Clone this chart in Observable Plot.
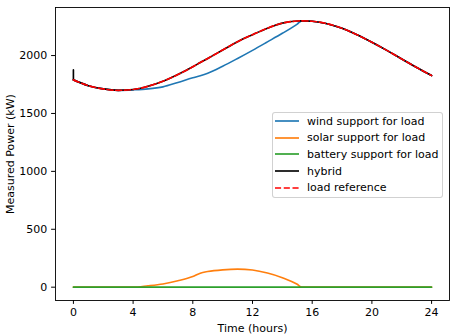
<!DOCTYPE html>
<html>
<head>
<meta charset="utf-8">
<script src="https://cdn.jsdelivr.net/npm/d3@7"></script>
<script src="https://cdn.jsdelivr.net/npm/@observablehq/plot@0.6"></script>
<style>
  html, body { margin: 0; padding: 0; background: #fff; }
  #wrap { position: relative; width: 460px; height: 336px; font-family: "DejaVu Sans", sans-serif; }
  #legend {
    position: absolute; left: 272px; top: 112px; width: 171px; height: 86px;
    border: 1px solid rgba(204,204,204,0.9); border-radius: 3px; background: rgba(255,255,255,0.8);
    box-sizing: border-box; font-size: 11px; color: #000;
  }
  .row { position: absolute; left: 0; height: 17px; display: flex; align-items: center; }
  .row svg { margin-left: 2px; }
  .row span { margin-left: 8px; white-space: nowrap; }
</style>
</head>
<body>
<div id="wrap"><div id="legend"></div></div>
<script>
// Time axis (hours)
const hours = [0,1,2,3,4,5,6,7,8,8.5,9,10,11,12,13,14,15,15.3,16,17,18,19,20,21,22,23,24];
// Load reference (kW)
const loadRef = [1790,1740,1712,1700,1707,1735,1778,1836,1903,1940,1975,2048,2120,2180,2236,2280,2298,2300,2296,2275,2235,2180,2115,2045,1970,1897,1827];
// Wind support for load (kW)
const windSupport = [1790,1740,1712,1700,1704,1712,1730,1768,1808,1826,1848,1908,1975,2045,2118,2192,2272,2300,2296,2275,2235,2180,2115,2045,1970,1897,1827];
// Solar support for load (kW)
const solarSupport = [0,0,0,0,0,12,28,55,92,121,135,150,156,148,122,82,25,0,0,0,0,0,0,0,0,0,0];
// Battery support for load (kW)
const batterySupport = [0,0,0,0,0,0,0,0,0,0,0,0,0,0,0,0,0,0,0,0,0,0,0,0,0,0,0];
// Hybrid (kW): starts with a spike at t=0, then follows the load
const hybridHours = [0,0,1,2,3,4,5,6,7,8,8.5,9,10,11,12,13,14,15,15.3,16,17,18,19,20,21,22,23,24];
const hybridValues = [1876,1790,1740,1712,1700,1707,1735,1778,1836,1903,1940,1975,2048,2120,2180,2236,2280,2298,2300,2296,2275,2235,2180,2115,2045,1970,1897,1827];

const xTicks = [0,4,8,12,16,20,24];
const yTicks = [0,500,1000,1500,2000];

const series = [
  {name: "wind support for load", color: "#1f77b4", dash: null},
  {name: "solar support for load", color: "#ff7f0e", dash: null},
  {name: "battery support for load", color: "#2ca02c", dash: null},
  {name: "hybrid", color: "#000000", dash: null},
  {name: "load reference", color: "#ff0000", dash: "6.1,2.65"}
];

const rows = (xs, vs) => xs.map((t, i) => ({t, v: vs[i]}));
const LW = 1.65;
const hybridRows = rows(hybridHours, hybridValues);

const chart = Plot.plot({
  width: 460,
  height: 336,
  marginLeft: 55,
  marginRight: 11,
  marginTop: 7,
  marginBottom: 36,
  style: {fontFamily: "'DejaVu Sans', sans-serif", fontSize: "11px", color: "#000", background: "#fff", overflow: "visible"},
  x: {domain: [-1.2, 25.2]},
  y: {domain: [-115, 2415]},
  marks: [
    Plot.line(rows(hours, windSupport), {x: "t", y: "v", stroke: series[0].color, strokeWidth: LW, curve: "monotone-x"}),
    Plot.line(rows(hours, solarSupport), {x: "t", y: "v", stroke: series[1].color, strokeWidth: LW, curve: "monotone-x"}),
    Plot.line(rows(hours, batterySupport), {x: "t", y: "v", stroke: series[2].color, strokeWidth: LW}),
    Plot.line(hybridRows.slice(0, 2), {x: "t", y: "v", stroke: series[3].color, strokeWidth: LW}),
    Plot.line(hybridRows.slice(1), {x: "t", y: "v", stroke: series[3].color, strokeWidth: LW, curve: "monotone-x"}),
    Plot.line(rows(hours, loadRef), {x: "t", y: "v", stroke: series[4].color, strokeWidth: LW, strokeDasharray: series[4].dash, curve: "monotone-x"}),
    Plot.frame({stroke: "#000", strokeWidth: 0.9}),
    Plot.axisX({ticks: xTicks, tickSize: 3.9, tickPadding: 4, tickFormat: d => String(d), label: "Time (hours)", labelAnchor: "center", labelArrow: "none", labelOffset: 31, fontSize: 11}),
    Plot.axisY({ticks: yTicks, tickSize: 3.9, tickPadding: 4.4, tickFormat: d => String(d), label: "Measured Power (kW)", labelAnchor: "center", labelArrow: "none", labelOffset: 49, fontSize: 11})
  ]
});
document.getElementById("wrap").prepend(chart);

// Legend overlay (inside the axes, right-center)
const legend = document.getElementById("legend");
series.forEach((s, i) => {
  const row = document.createElement("div");
  row.className = "row";
  row.style.top = (i * 16.7 - 0.5) + "px";
  row.innerHTML = `<svg width="24" height="6"><line x1="0" y1="3" x2="24" y2="3" stroke="${s.color}" stroke-width="${LW}" ${s.dash ? `stroke-dasharray="${s.dash}"` : ""}/></svg><span>${s.name}</span>`;
  legend.appendChild(row);
});
</script>
</body>
</html>
